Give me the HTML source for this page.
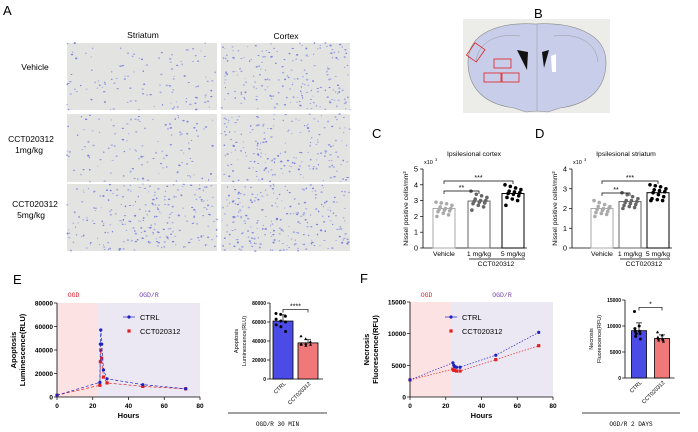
<!DOCTYPE html>
<html><head><meta charset="utf-8"><style>
html,body{margin:0;padding:0;background:#fff;}
svg{display:block;font-family:"Liberation Sans",sans-serif;}
.mono{font-family:"Liberation Mono",monospace;}
</style></head><body>
<svg id="fig" width="698" height="432" viewBox="0 0 698 432">
<text x="3" y="15" font-size="13">A</text>
<text x="143" y="38" font-size="8.5" text-anchor="middle">Striatum</text>
<text x="286" y="39" font-size="8.5" text-anchor="middle">Cortex</text>
<text x="35" y="70" font-size="8.5" text-anchor="middle">Vehicle</text>
<text x="33" y="142" font-size="8.5" text-anchor="middle"><tspan x="31">CCT020312</tspan><tspan x="29" dy="11">1mg/kg</tspan></text>
<text x="36" y="207" font-size="8.5" text-anchor="middle"><tspan x="35">CCT020312</tspan><tspan x="31" dy="11">5mg/kg</tspan></text>
<g id="tiles"></g>
<text x="534" y="18" font-size="13">B</text>
<g>
<rect x="463" y="19" width="147" height="94" fill="#ecece8"/>
<path d="M468,62 C468,32 500,22 535,24 C570,22 606,32 606,62 C606,88 590,104 560,108 L548,112 L537,111 L526,112 L514,108 C484,104 468,88 468,62Z" fill="#c8cdea" stroke="#888" stroke-width="0.6"/>
<path d="M537,24 L537,111" stroke="#999" stroke-width="0.5"/>
<path d="M476,62 C478,40 500,33 520,36 M598,62 C596,40 574,33 554,36" fill="none" stroke="#999" stroke-width="0.5"/>
<path d="M517,50 L528,52 L527,70 Z" fill="#111"/>
<path d="M549,50 L542,52 L544,68 Z" fill="#111"/>
<path d="M551,56 L556,54 L556,72 L552,72Z" fill="#fff"/>
<g fill="none" stroke="#e02020" stroke-width="0.8">
<rect x="470" y="45" width="12" height="15" transform="rotate(35 476 52)"/>
<rect x="494" y="59" width="17" height="9"/>
<rect x="484" y="73" width="17" height="9"/>
<rect x="502" y="73" width="17" height="9"/>
</g></g>
<text x="372" y="138" font-size="13">C</text>
<text x="535" y="138" font-size="13">D</text>
<text x="13" y="284" font-size="13">E</text>
<text x="360" y="283" font-size="13">F</text>
<g id="charts"></g>
</svg>
<script>
const NS='http://www.w3.org/2000/svg';
const root=document.getElementById('charts');
function mk(tag,a,p){const e=document.createElementNS(NS,tag);for(const k in a)e.setAttribute(k,a[k]);(p||root).appendChild(e);return e;}
function tx(x,y,s,a,p){const e=mk('text',Object.assign({x:x,y:y},a),p);e.textContent=s;return e;}

// ---- data ----
const catsC=['Vehicle','1 mg/kg','5 mg/kg'];
const ticksC=[0,1,2,3,4,5];
const ptsCveh=[2.9,2.85,2.8,2.7,2.6,2.5,2.5,2.45,2.4,2.35,2.3,2.2,2.1,2.0];
const ptsC1=[3.6,3.4,3.3,3.2,3.1,3.0,3.0,2.95,2.9,2.85,2.8,2.7,2.6,2.4];
const ptsC5=[4.0,3.9,3.8,3.7,3.6,3.55,3.5,3.45,3.4,3.3,3.2,3.1,3.0,2.7];
const meansC=[2.5,2.97,3.45];
const ticksD=[0,1,2,3,4];
const ptsDveh=[2.4,2.3,2.2,2.1,2.1,2.0,2.0,1.95,1.9,1.85,1.8,1.75,1.7,1.6];
const ptsD1=[2.8,2.7,2.6,2.5,2.4,2.4,2.35,2.3,2.25,2.2,2.15,2.1,2.05,2.0];
const ptsD5=[3.2,3.15,3.1,3.0,2.95,2.9,2.85,2.8,2.7,2.6,2.5,2.45,2.4,2.4];
const meansD=[2.0,2.35,2.8];
const timesE=[0,24,24.25,24.5,25,26,28,48,72];
const ctrlE=[1500,12500,45000,57000,45000,23000,15500,10500,7000];
const cctE=[1500,10000,30000,40000,33000,17000,12000,9000,7000];
const ticksEy=[0,20000,40000,60000,80000];
const ticksX=[0,20,40,60,80];
const barCatsE=['CTRL','CCT020312'];
const barMeansE=[61000,38000];
const barSdE=[6500,3500];
const ptsEctrl=[69000,68000,66000,63000,61000,60000,57000,55000,50000];
const ptsEcct=[45000,42000,39000,37000,37000,36000,36000,35000];
const timesF=[0,24,24.5,25,26,28,48,72];
const ctrlF=[2700,5400,5000,4800,4700,4700,6600,10200];
const cctF=[2700,4400,4200,4200,4100,4100,5900,8100];
const ticksFy=[0,5000,10000,15000];
const barMeansF=[9100,7600];
const barSdF=[1500,700];
const ptsFctrl=[12800,10000,9500,9000,9000,8500,8000,7500,8500];
const ptsFcct=[8800,8200,7800,7500,7500,7300,7200,7000];

// ---- micrographs texture ----
(function(){
 const g=document.getElementById('tiles');let s=7;
 function r(){s=(s*16807)%2147483647;return s/2147483647;}
 const xs=[[67,150],[221,129]],ys=[[43,67],[114,68],[184,67]];
 ys.forEach((yy,ri)=>xs.forEach((xx,ci)=>{
  const t=mk('rect',{x:xx[0],y:yy[0],width:xx[1],height:yy[1],fill:'#e3e3e1'},g);
  
  
  const n=ri==2?240:(ci==1?200:120);
  for(let i=0;i<n;i++){mk('ellipse',{cx:xx[0]+r()*xx[1],cy:yy[0]+r()*yy[1],rx:0.5+r()*0.8,ry:0.4+r()*0.6,fill:r()<0.5?'#7c83dc':'#a2a7e4'},g);}
 }));
})();

// ---- dot bar charts C/D ----
function dotChart(name,ax,y0,h,max,ticks,centers,means,pts,cols,title,tcx,br){
 const g=mk('g',{});
 
 
 const y=v=>y0-v/max*h;
 tx(tcx,156,title,{'font-size':6.8,'text-anchor':'middle'},g);
 tx(ax+1,164,'x10',{'font-size':5.5},g);tx(ax+12,161,'3',{'font-size':4},g);
 mk('line',{x1:ax,y1:y0,x2:ax,y2:y(max),stroke:'#000','stroke-width':0.8},g);
 mk('line',{x1:ax,y1:y0,x2:centers[2]+14,y2:y0,stroke:'#000','stroke-width':0.8},g);
 ticks.forEach(t=>{mk('line',{x1:ax-3,y1:y(t),x2:ax,y2:y(t),stroke:'#000','stroke-width':0.7},g);tx(ax-5,y(t)+2.5,t,{'font-size':7.5,'text-anchor':'end'},g);});
 tx(0,0,'Nissel positive cells/mm²',{'font-size':6.8,'text-anchor':'middle',transform:`translate(${ax-15},${y0-h/2}) rotate(-90)`},g);
 centers.forEach((c,i)=>{
  const b=mk('rect',{x:c-11,y:y(means[i]),width:22,height:y0-y(means[i]),fill:'#fff',stroke:cols[i],'stroke-width':1},g);
  
  
  pts[i].forEach((v,j)=>mk('circle',{cx:c-8+(j*5.3)%17,cy:y(v),r:1.8,fill:cols[i]},g));
  tx(c,y0+8,catsC[i],{'font-size':6.8,'text-anchor':'middle'},g);
 });
 mk('line',{x1:centers[1]-10,y1:y0+11,x2:centers[2]+12,y2:y0+11,stroke:'#000','stroke-width':0.8},g);
 tx((centers[1]+centers[2])/2,y0+18,'CCT020312',{'font-size':6.8,'text-anchor':'middle'},g);
 mk('path',{d:`M${centers[0]},${br[1]+3}V${br[1]}H${centers[1]}V${br[1]+3}`,fill:'none',stroke:'#000','stroke-width':0.7},g);
 tx((centers[0]+centers[1])/2,br[1]-1,'**',{'font-size':7,'text-anchor':'middle'},g);
 mk('path',{d:`M${centers[0]},${br[0]+3}V${br[0]}H${centers[2]}V${br[0]+3}`,fill:'none',stroke:'#000','stroke-width':0.7},g);
 tx((centers[0]+centers[2])/2,br[0]-1,'***',{'font-size':7,'text-anchor':'middle'},g);
}
dotChart('chart-c',423,248,79,5,ticksC,[444,479,513],meansC,[ptsCveh,ptsC1,ptsC5],['#aaa','#666','#000'],'Ipsilesional cortex',474,[181,191]);
dotChart('chart-d',572,248,79,4,ticksD,[602,630,658],meansD,[ptsDveh,ptsD1,ptsD5],['#aaa','#666','#000'],'Ipsilesional striatum',626,[181,193]);

// ---- time course ----
function timeChart(name,x0,x1,y0,y1,ymax,yt,times,ctrl,cct,lab1,lab2,dash,legX){
 const g=mk('g',{});
 
 
 const X=t=>x0+t/80*(x1-x0),Y=v=>y0-v/ymax*(y0-y1);
 mk('rect',{x:X(0),y:y1,width:X(23)-X(0),height:y0-y1,fill:'#fde2e4'},g);
 mk('rect',{x:X(23),y:y1,width:X(80)-X(23),height:y0-y1,fill:'#ebe7f3'},g);
 tx(X(6),297,'OGD',{'font-size':6.5,fill:'#e02030','class':'mono'},g);
 tx(X(46),297,'OGD/R',{'font-size':6.5,fill:'#7040b0','class':'mono'},g);
 mk('line',{x1:x0,y1:y0,x2:x0,y2:y1,stroke:'#000','stroke-width':0.8},g);
 mk('line',{x1:x0,y1:y0,x2:x1,y2:y0,stroke:'#000','stroke-width':0.8},g);
 yt.forEach(t=>{mk('line',{x1:x0-3,y1:Y(t),x2:x0,y2:Y(t),stroke:'#000','stroke-width':0.7},g);tx(x0-4,Y(t)+2.5,t,{'font-size':6.5,'text-anchor':'end','font-weight':'bold'},g);});
 ticksX.forEach(t=>{mk('line',{x1:X(t),y1:y0,x2:X(t),y2:y0+3,stroke:'#000','stroke-width':0.7},g);tx(X(t),y0+11,t,{'font-size':6.5,'text-anchor':'middle','font-weight':'bold'},g);});
 tx((x0+x1)/2,y0+21,'Hours',{'font-size':7.5,'text-anchor':'middle','font-weight':'bold'},g);
 tx(0,0,lab1,{'font-size':7.5,'font-weight':'bold','text-anchor':'middle',transform:`translate(${x0-41},${(y0+y1)/2}) rotate(-90)`},g);
 tx(0,0,lab2,{'font-size':7.5,'font-weight':'bold','text-anchor':'middle',transform:`translate(${x0-32},${(y0+y1)/2}) rotate(-90)`},g);
 [[cct,'#e02020','rect','series-cct020312'],[ctrl,'#2020c0','circle','series-ctrl']].forEach(s=>{
  const l=mk('polyline',{points:times.map((t,i)=>X(t)+','+Y(s[0][i])).join(' '),fill:'none',stroke:s[1],'stroke-width':0.7,'stroke-dasharray':dash},g);
  
  
  times.forEach((t,i)=>{ if(s[2]=='circle')mk('circle',{cx:X(t),cy:Y(s[0][i]),r:1.6,fill:s[1]},g); else mk('rect',{x:X(t)-1.6,y:Y(s[0][i])-1.6,width:3.2,height:3.2,fill:s[1]},g);});
 });
 mk('line',{x1:legX,y1:317,x2:legX+12,y2:317,stroke:'#2020c0','stroke-width':0.7},g);
 mk('circle',{cx:legX+6,cy:317,r:1.6,fill:'#2020c0'},g);
 tx(legX+17,320,'CTRL',{'font-size':7.5},g);
 mk('rect',{x:legX+4.4,y:329.4,width:3.2,height:3.2,fill:'#e02020'},g);
 tx(legX+17,334,'CCT020312',{'font-size':7.5},g);
}
timeChart('chart-e-timecourse',57,200,397,303,80000,ticksEy,timesE,ctrlE,cctE,'Apoptosis','Luminescence(RLU)','3,2',123);
timeChart('chart-f-timecourse',410,553,397,302,15000,ticksFy,timesF,ctrlF,cctF,'Necrosis','Fluorescence(RFU)','1.5,1.5',445);

// ---- bar charts ----
function barChart(name,ax,y0,y1,ymax,yt,cx,w,means,sd,pts,lab1,lab2,star,foot,lx0,lx1){
 const g=mk('g',{});
 
 
 const Y=v=>y0-v/ymax*(y0-y1);
 mk('line',{x1:ax,y1:y0,x2:ax,y2:y1,stroke:'#000','stroke-width':0.8},g);
 mk('line',{x1:ax,y1:y0,x2:cx[1]+w/2+5,y2:y0,stroke:'#000','stroke-width':0.8},g);
 yt.forEach(t=>{mk('line',{x1:ax-3,y1:Y(t),x2:ax,y2:Y(t),stroke:'#000','stroke-width':0.7},g);tx(ax-4,Y(t)+2,t,{'font-size':5,'text-anchor':'end','font-weight':'bold'},g);});
 tx(0,0,lab1,{'font-size':5.5,'text-anchor':'middle',transform:`translate(${ax-32},${(y0+y1)/2}) rotate(-90)`},g);
 tx(0,0,lab2,{'font-size':5.5,'text-anchor':'middle',transform:`translate(${ax-24},${(y0+y1)/2}) rotate(-90)`},g);
 const cols=['#4b4be8','#f07878'];
 cx.forEach((c,i)=>{
  const b=mk('rect',{x:c-w/2,y:Y(means[i]),width:w,height:y0-Y(means[i]),fill:cols[i],stroke:'#000','stroke-width':0.8},g);
  
  
  mk('path',{d:`M${c},${Y(means[i])}V${Y(means[i]+sd[i])}M${c-3},${Y(means[i]+sd[i])}H${c+3}`,stroke:'#000','stroke-width':0.7},g);
  pts[i].forEach((v,j)=>{const px=c-w/2+3+(j*4.7)%(w-6);if(i==0)mk('circle',{cx:px,cy:Y(v),r:1.5,fill:'#000'},g);else mk('path',{d:`M${px},${Y(v)-1.8}l1.6,2.8h-3.2z`,fill:'#000'},g);});
  tx(0,0,barCatsE[i],{'font-size':5.5,'text-anchor':'end',transform:`translate(${c+3},${y0+5}) rotate(-45)`},g);
 });
 const by=Y(Math.max(...pts[0]))-4;
 mk('path',{d:`M${cx[0]},${by+3}V${by}H${cx[1]}V${by+3}`,fill:'none',stroke:'#000','stroke-width':0.7},g);
 tx((cx[0]+cx[1])/2,by-1,star,{'font-size':7,'text-anchor':'middle'},g);
 mk('line',{x1:lx0,y1:413,x2:lx1,y2:413,stroke:'#000','stroke-width':0.8},g);
 tx((lx0+lx1)/2,426,foot,{'font-size':6,'text-anchor':'middle','class':'mono'},g);
}
barChart('chart-e-bars',270,379,303,80000,[0,20000,40000,60000,80000],[283,308],20,barMeansE,barSdE,[ptsEctrl,ptsEcct],'Apoptosis','Luminescence(RLU)','****','OGD/R 30 MIN',228,327);
barChart('chart-f-bars',625,378,300,15000,[0,5000,10000,15000],[639,662],15,barMeansF,barSdF,[ptsFctrl,ptsFcct],'Necrosis','Fluorescence(RFU)','*','OGD/R 2 DAYS',582,680);
</script>
</body></html>
